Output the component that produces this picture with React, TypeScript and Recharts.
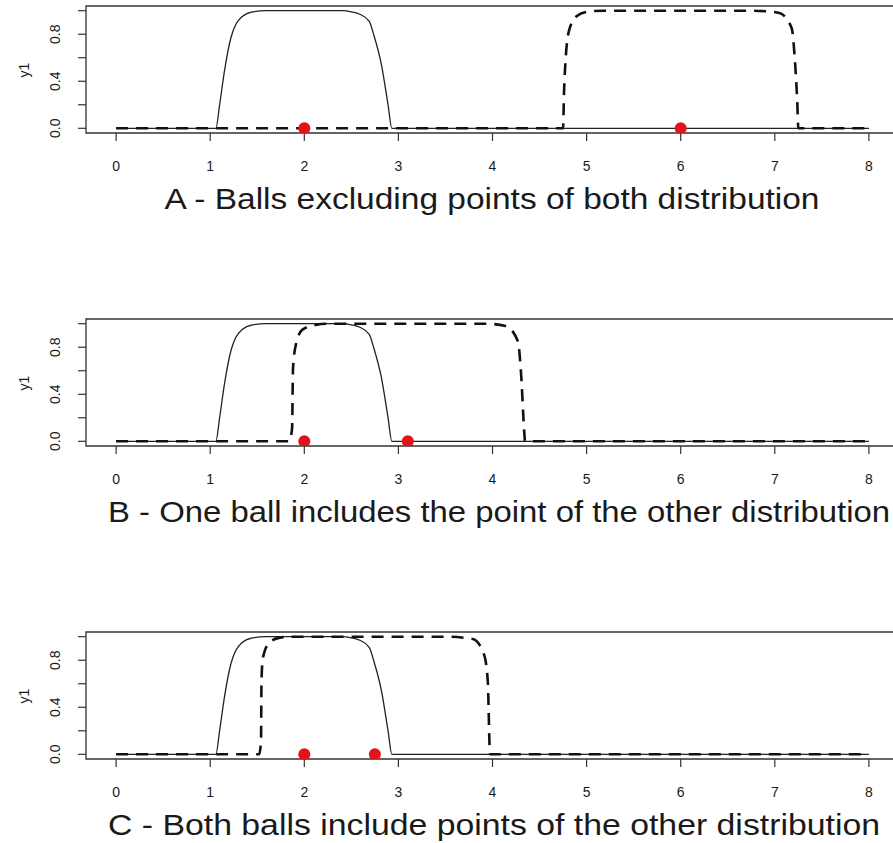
import { ComposedChart, Line, Scatter, XAxis, YAxis, ReferenceArea } from "recharts";

// curve samples (x, y)
const solidX = [0, 1.06, 1.1, 1.15, 1.22, 1.27, 1.34, 1.45, 1.59, 2.41, 2.5, 2.59, 2.69, 2.74, 2.82, 2.89, 2.93, 8];
const solidY = [0, 0, 0.2, 0.48, 0.77, 0.88, 0.95, 0.99, 1.0, 1.0, 0.99, 0.97, 0.91, 0.79, 0.54, 0.2, 0, 0];

const dashedAX = [0, 4.75, 4.76, 4.78, 4.81, 4.89, 5.0, 5.17, 6.73, 6.92, 7.05, 7.18, 7.21, 7.24, 7.25, 8];
const dashedAY = [0, 0, 0.3, 0.62, 0.82, 0.95, 0.99, 1.0, 1.0, 0.995, 0.98, 0.85, 0.62, 0.2, 0, 0];

const dashedBX = [0, 1.84, 1.87, 1.88, 1.91, 1.98, 2.12, 2.25, 3.93, 4.14, 4.27, 4.3, 4.34, 4.345, 8];
const dashedBY = [0, 0, 0.11, 0.62, 0.82, 0.95, 0.99, 1.0, 1.0, 0.98, 0.85, 0.62, 0.05, 0, 0];

const dashedCX = [0, 1.52, 1.54, 1.545, 1.56, 1.63, 1.73, 1.85, 3.51, 3.79, 3.91, 3.95, 3.97, 3.975, 8];
const dashedCY = [0, 0, 0.11, 0.62, 0.82, 0.95, 0.99, 1.0, 1.0, 0.98, 0.85, 0.62, 0.05, 0, 0];

const pointsAX = [2, 6];
const pointsBX = [2, 3.1];
const pointsCX = [2, 2.75];

const xTicks = [0, 1, 2, 3, 4, 5, 6, 7, 8];
const yTicks = [0, 0.2, 0.4, 0.6, 0.8, 1.0];
const yTickLabels = ["0.0", "", "0.4", "", "0.8", ""];

const titles = [
  "A - Balls excluding points of both distribution",
  "B - One ball includes the point of the other distribution",
  "C - Both balls include points of the other distribution",
];

const FONT = "'Liberation Sans', Arial, Helvetica, sans-serif";
const INK = "#1a1a1a";

const rows = (xs: number[], ys: number[]) => xs.map((x, i) => ({ x, y: ys[i] }));

function XTick({ x, payload }: any) {
  return (
    <text x={x} y={171} textAnchor="middle" fontSize={14} fontFamily={FONT} fill={INK}>
      {payload.value}
    </text>
  );
}

function YTick({ y, index }: any) {
  const label = yTickLabels[index] ?? "";
  if (!label) return null;
  return (
    <text x={60} y={y} transform={`rotate(-90, 60, ${y})`} textAnchor="middle"
      fontSize={14} fontFamily={FONT} fill={INK}>
      {label}
    </text>
  );
}

function Panel({ top, solid, dashed, points, title, titleX, titleLen }: any) {
  return (
    <div style={{ position: "absolute", left: 0, top }}>
      <ComposedChart width={910} height={233} margin={{ top: 6, right: 11, bottom: 0, left: 0 }}>
        <XAxis
          dataKey="x"
          type="number"
          domain={[-0.32, 8.32]}
          allowDataOverflow
          ticks={xTicks}
          axisLine={false}
          tickSize={8}
          tickLine={{ stroke: "#333", strokeWidth: 1.2 }}
          tick={<XTick />}
          height={100}
          label={{
            content: () => (
              <text x={titleX} y={209} textAnchor="middle" fontSize={29} fontFamily={FONT}
                fill={INK} textLength={titleLen} lengthAdjust="spacingAndGlyphs">
                {title}
              </text>
            ),
          }}
        />
        <YAxis
          type="number"
          domain={[-0.04, 1.04]}
          allowDataOverflow
          ticks={yTicks}
          width={86}
          axisLine={false}
          tickSize={8}
          tickLine={{ stroke: "#333", strokeWidth: 1.2 }}
          tick={<YTick />}
          label={{
            content: () => (
              <text x={29} y={70} transform="rotate(-90, 29, 70)" textAnchor="middle"
                fontSize={14} fontFamily={FONT} fill={INK}>
                y1
              </text>
            ),
          }}
        />
        <ReferenceArea x1={-0.32} x2={8.32} y1={-0.04} y2={1.04} fill="none" fillOpacity={0}
          stroke="#333" strokeWidth={1.3} strokeOpacity={1} ifOverflow="visible" />
        <Line data={solid} dataKey="y" type="monotone" stroke="#222" strokeWidth={1.3}
          dot={false} activeDot={false} isAnimationActive={false} />
        <Line data={dashed} dataKey="y" type="monotone" stroke="#111" strokeWidth={2.6}
          strokeDasharray="12 8" dot={false} activeDot={false} isAnimationActive={false} />
        <Scatter data={points} dataKey="y" isAnimationActive={false}
          shape={(p: any) => <circle cx={p.cx} cy={p.cy} r={6} fill="#e3121b" />} />
      </ComposedChart>
    </div>
  );
}

export default function App() {
  const solid = rows(solidX, solidY);
  return (
    <div style={{ position: "fixed", left: 0, top: 0, width: 893, height: 843, overflow: "hidden", background: "#fff" }}>
      <Panel top={0} solid={solid} dashed={rows(dashedAX, dashedAY)}
        points={pointsAX.map((x) => ({ x, y: 0 }))} title={titles[0]} titleX={492} titleLen={655} />
      <Panel top={313} solid={solid} dashed={rows(dashedBX, dashedBY)}
        points={pointsBX.map((x) => ({ x, y: 0 }))} title={titles[1]} titleX={499} titleLen={782} />
      <Panel top={626} solid={solid} dashed={rows(dashedCX, dashedCY)}
        points={pointsCX.map((x) => ({ x, y: 0 }))} title={titles[2]} titleX={494} titleLen={772} />
    </div>
  );
}
